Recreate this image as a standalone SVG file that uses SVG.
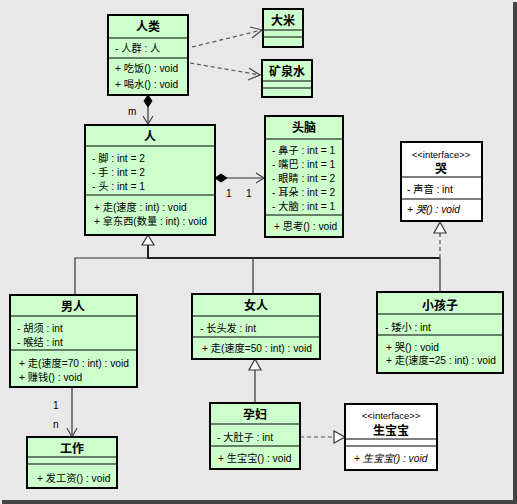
<svg xmlns="http://www.w3.org/2000/svg" width="517" height="504" viewBox="0 0 517 504">
<defs>
<style>
text{font-family:"Liberation Sans","Noto Sans CJK SC",sans-serif;font-size:10.2px;fill:#000}
.t{font-weight:bold;font-size:12px;text-anchor:middle}
.s{font-size:9.5px;text-anchor:middle}
.i{font-style:italic}
.box{fill:#ccffcc;stroke:#000;stroke-width:2}
.ibox{fill:#fff;stroke:#000;stroke-width:2}
.sep{stroke:#000;stroke-width:1.2}
.ln{fill:none;stroke:#333;stroke-width:1.2}
.dl{fill:none;stroke:#555;stroke-width:1.2;stroke-dasharray:4,3}
.oa{fill:none;stroke:#444;stroke-width:1.2}
.tri{fill:#fff;stroke:#333;stroke-width:1.2}
.dia{fill:#000;stroke:#000}
</style>
</defs>
<rect x="0" y="0" width="517" height="504" fill="#e8e8e8"/>
<rect x="513" y="2" width="4" height="502" fill="#444"/>
<rect x="2" y="500" width="515" height="4" fill="#444"/>

<g id="connectors">
<path class="dl" d="M192,47 L262,30"/>
<path class="oa" d="M250,27 L262,30 L252,38"/>
<path class="dl" d="M190,63 L260,75"/>
<path class="oa" d="M249,68 L260,75 L248,80"/>
<path class="dia" d="M148,95 L152,101 L148,107 L144,101 Z"/>
<path class="ln" d="M148,107 L148,124"/>
<path class="oa" d="M143,116 L148,124 L153,116"/>
<text x="128" y="115" style="font-size:10px">m</text>
<path class="dia" d="M215,178 L221,174 L227,178 L221,182 Z"/>
<path class="ln" d="M227,178 L264,178"/>
<path class="oa" d="M256,173 L264,178 L256,183"/>
<text x="226" y="197">1</text>
<text x="246" y="197">1</text>
<path class="tri" d="M148,235 L154,245 L142,245 Z"/>
<path d="M148,245 L148,258 L440,258" fill="none" stroke="#222" stroke-width="2"/>
<path class="ln" d="M75,294 L75,258 L148,258"/>
<path class="ln" d="M253,294 L253,258"/>
<path class="ln" d="M440,258 L440,292"/>
<path class="dl" d="M440,258 L440,233"/>
<path class="tri" d="M440,222 L446,233 L434,233 Z"/>
<path class="ln" d="M72,387 L72,437"/>
<path class="oa" d="M67,428 L72,437 L77,428"/>
<text x="53" y="409">1</text>
<text x="53" y="428">n</text>
<path class="tri" d="M255,359 L261,370 L249,370 Z"/>
<path class="ln" d="M255,370 L255,403"/>
<path class="dl" d="M300,437 L334,437"/>
<path class="tri" d="M345,437 L334,431 L334,443 Z"/>
</g>

<g id="renlei">
<rect class="box" x="108" y="15" width="80" height="80"/>
<line class="sep" x1="108" y1="38" x2="188" y2="38"/>
<line class="sep" x1="108" y1="58" x2="188" y2="58"/>
<text class="t" x="148" y="31">人类</text>
<text x="115" y="52">- 人群 : 人</text>
<text x="115" y="72">+ 吃饭() : void</text>
<text x="115" y="88">+ 喝水() : void</text>
</g>

<g id="dami">
<rect class="box" x="263" y="9" width="40" height="38"/>
<line class="sep" x1="263" y1="30" x2="303" y2="30"/>
<line class="sep" x1="263" y1="37" x2="303" y2="37"/>
<text class="t" x="283" y="25">大米</text>
</g>

<g id="kuangquanshui">
<rect class="box" x="262" y="60" width="50" height="37"/>
<line class="sep" x1="262" y1="81" x2="312" y2="81"/>
<line class="sep" x1="262" y1="88" x2="312" y2="88"/>
<text class="t" x="287" y="76">矿泉水</text>
</g>

<g id="ren">
<rect class="box" x="85" y="125" width="130" height="110"/>
<line class="sep" x1="85" y1="146" x2="215" y2="146"/>
<line class="sep" x1="85" y1="195" x2="215" y2="195"/>
<text class="t" x="150" y="141">人</text>
<text x="92" y="162">- 脚 : int = 2</text>
<text x="92" y="176">- 手 : int = 2</text>
<text x="92" y="190">- 头 : int = 1</text>
<text x="94" y="211">+ 走(速度 : int) : void</text>
<text x="94" y="225">+ 拿东西(数量 : int) : void</text>
</g>

<g id="tounao">
<rect class="box" x="265" y="116" width="78" height="121"/>
<line class="sep" x1="265" y1="139" x2="343" y2="139"/>
<line class="sep" x1="265" y1="215" x2="343" y2="215"/>
<text class="t" x="304" y="132">头脑</text>
<text x="272" y="154">- 鼻子 : int = 1</text>
<text x="272" y="168">- 嘴巴 : int = 1</text>
<text x="272" y="182">- 眼睛 : int = 2</text>
<text x="272" y="196">- 耳朵 : int = 2</text>
<text x="272" y="210">- 大脑 : int = 1</text>
<text x="274" y="230">+ 思考() : void</text>
</g>

<g id="ku">
<rect class="ibox" x="401" y="142" width="81" height="79"/>
<line class="sep" x1="401" y1="177" x2="482" y2="177"/>
<line class="sep" x1="401" y1="199" x2="482" y2="199"/>
<text class="s" x="441" y="158">&lt;&lt;interface&gt;&gt;</text>
<text class="t" x="441" y="173">哭</text>
<text x="407" y="193">- 声音 : int</text>
<text class="i" x="407" y="213">+ 哭() : void</text>
</g>

<g id="nanren">
<rect class="box" x="10" y="295" width="127" height="92"/>
<line class="sep" x1="10" y1="316" x2="137" y2="316"/>
<line class="sep" x1="10" y1="350" x2="137" y2="350"/>
<text class="t" x="73" y="311">男人</text>
<text x="17" y="332">- 胡须 : int</text>
<text x="17" y="346">- 喉结 : int</text>
<text x="19" y="367">+ 走(速度=70 : int) : void</text>
<text x="19" y="381">+ 赚钱() : void</text>
</g>

<g id="nvren">
<rect class="box" x="192" y="294" width="128" height="65"/>
<line class="sep" x1="192" y1="316" x2="320" y2="316"/>
<line class="sep" x1="192" y1="337" x2="320" y2="337"/>
<text class="t" x="256" y="310">女人</text>
<text x="200" y="332">- 长头发 : int</text>
<text x="202" y="352">+ 走(速度=50 : int) : void</text>
</g>

<g id="xiaohaizi">
<rect class="box" x="377" y="292" width="126" height="81"/>
<line class="sep" x1="377" y1="314" x2="503" y2="314"/>
<line class="sep" x1="377" y1="335" x2="503" y2="335"/>
<text class="t" x="440" y="310">小孩子</text>
<text x="385" y="331">- 矮小 : int</text>
<text x="386" y="351">+ 哭() : void</text>
<text x="386" y="364">+ 走(速度=25 : int) : void</text>
</g>

<g id="gongzuo">
<rect class="box" x="27" y="437" width="90" height="51"/>
<line class="sep" x1="27" y1="457" x2="117" y2="457"/>
<line class="sep" x1="27" y1="464" x2="117" y2="464"/>
<text class="t" x="72" y="453">工作</text>
<text x="37" y="482">+ 发工资() : void</text>
</g>

<g id="yunfu">
<rect class="box" x="210" y="403" width="90" height="66"/>
<line class="sep" x1="210" y1="424" x2="300" y2="424"/>
<line class="sep" x1="210" y1="446" x2="300" y2="446"/>
<text class="t" x="255" y="419">孕妇</text>
<text x="217" y="441">- 大肚子 : int</text>
<text x="218" y="462">+ 生宝宝() : void</text>
</g>

<g id="shengbaobao">
<rect class="ibox" x="345" y="404" width="92" height="66"/>
<line class="sep" x1="345" y1="439" x2="437" y2="439"/>
<line class="sep" x1="345" y1="446" x2="437" y2="446"/>
<text class="s" x="391" y="419">&lt;&lt;interface&gt;&gt;</text>
<text class="t" x="391" y="435">生宝宝</text>
<text class="i" x="354" y="462">+ 生宝宝() : void</text>
</g>
</svg>
